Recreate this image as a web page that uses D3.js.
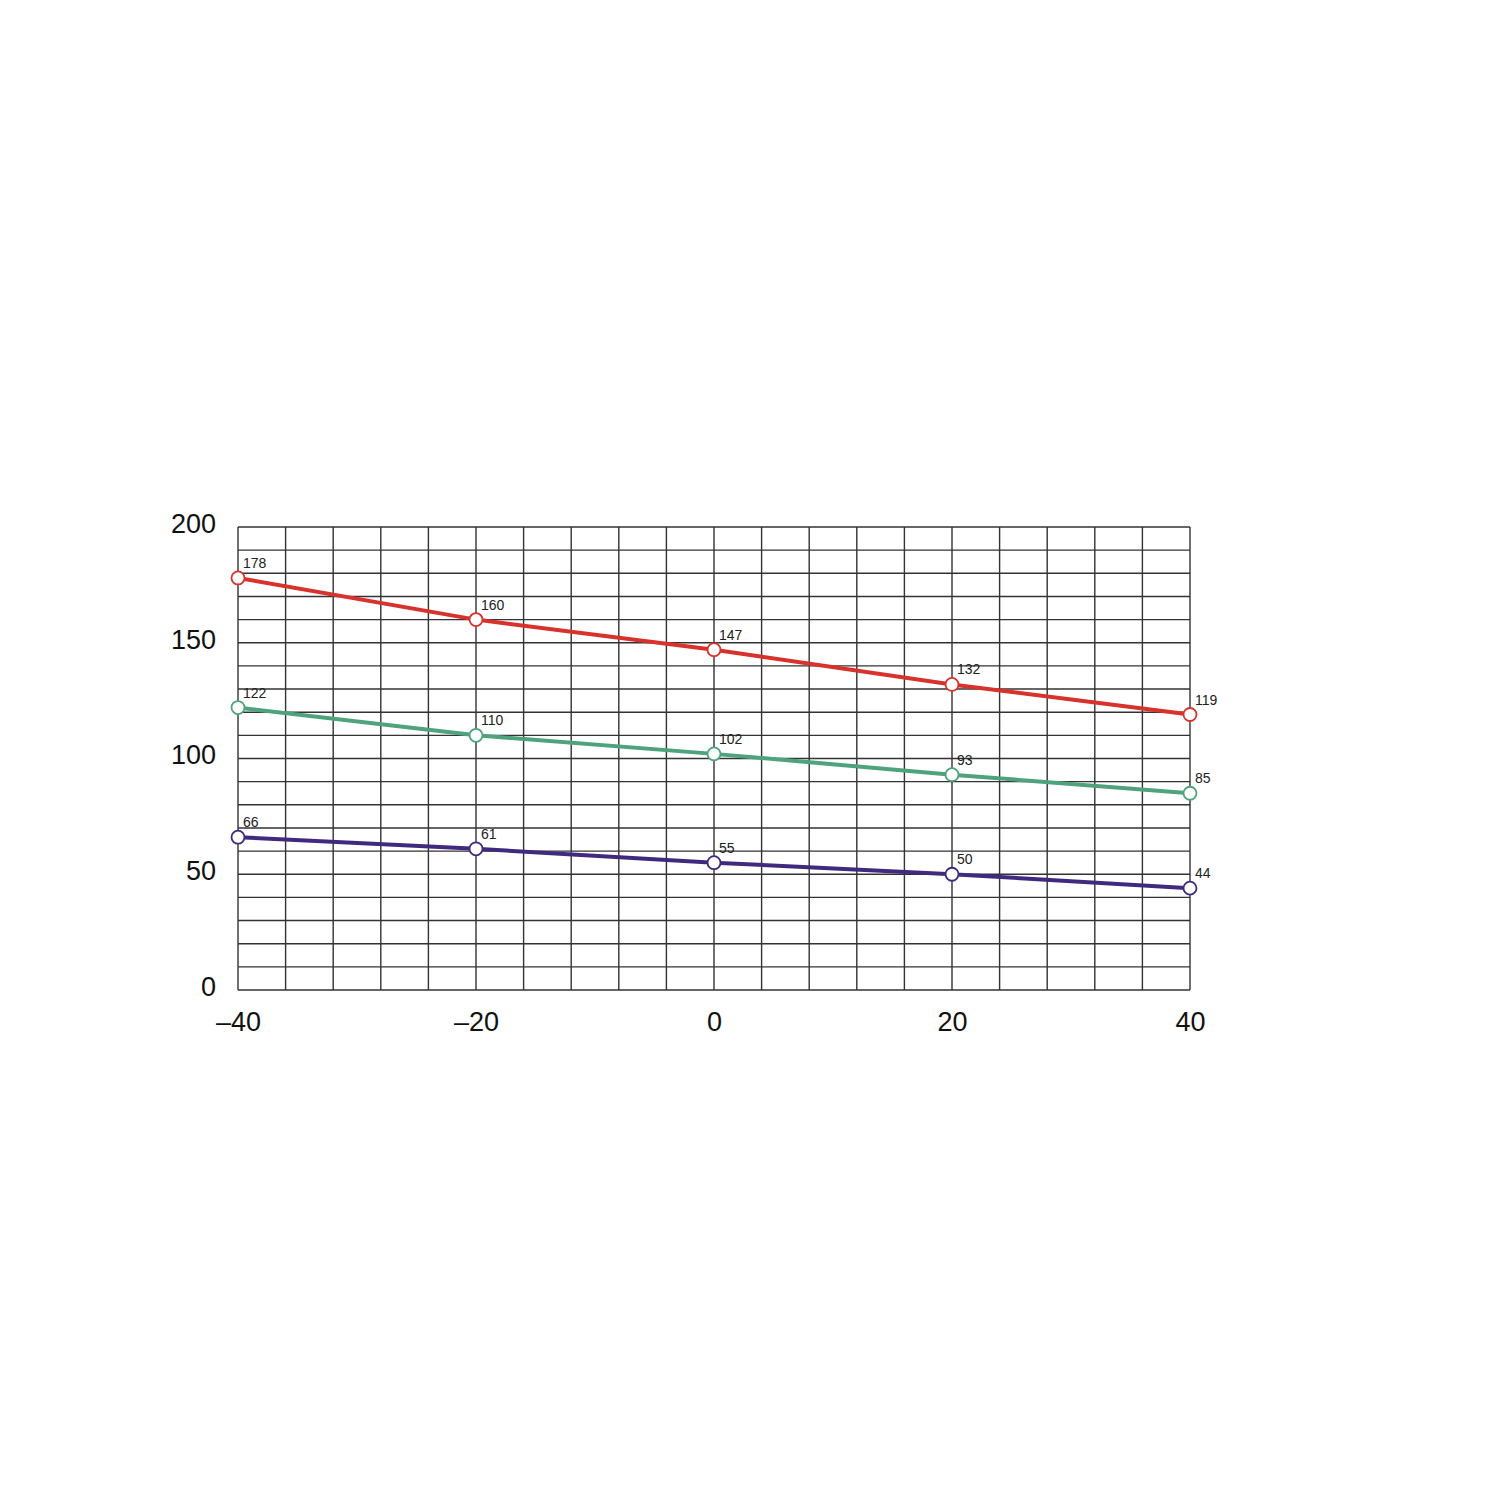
<!DOCTYPE html>
<html><head><meta charset="utf-8">
<script src="https://cdn.jsdelivr.net/npm/d3@7"></script>
<style>body{margin:0;background:#fff}</style>
</head><body>
<script>
const xValues = [-40, -20, 0, 20, 40];
const redSeries = [178, 160, 147, 132, 119];
const greenSeries = [122, 110, 102, 93, 85];
const purpleSeries = [66, 61, 55, 50, 44];
const xTicks = [-40, -20, 0, 20, 40];
const yTicks = [0, 50, 100, 150, 200];

const series = [
  {values: redSeries, color: "#d7322b"},
  {values: greenSeries, color: "#4ea37c"},
  {values: purpleSeries, color: "#3f2a80"}
];

const W = 1500, H = 1500;
const svg = d3.select("body").append("svg").attr("width", W).attr("height", H);
svg.append("rect").attr("width", W).attr("height", H).attr("fill", "#fff");

const x = d3.scaleLinear().domain([-40, 40]).range([238, 1190]);
const y = d3.scaleLinear().domain([0, 200]).range([990, 527]);

const grid = svg.append("g");
grid.selectAll("line.v").data(d3.range(-40, 40.1, 4)).join("line")
  .attr("x1", d => x(d)).attr("x2", d => x(d))
  .attr("y1", y(0)).attr("y2", y(200))
  .attr("stroke", "#333").attr("stroke-width", 1.4);
grid.selectAll("line.h").data(d3.range(0, 200.1, 10)).join("line")
  .attr("y1", d => y(d)).attr("y2", d => y(d))
  .attr("x1", x(-40)).attr("x2", x(40))
  .attr("stroke", "#333").attr("stroke-width", 1.4);

const font = "Liberation Sans, Arial, sans-serif";
const xAxis = d3.axisBottom(x).tickValues(xTicks).tickSize(0)
  .tickFormat(d => d < 0 ? "\u2013" + Math.abs(d) : String(d));
svg.append("g").attr("transform", `translate(0,${y(0)})`).call(xAxis)
  .call(g => g.select(".domain").remove())
  .call(g => g.selectAll("text").attr("font-family", font).attr("font-size", 27)
    .attr("fill", "#111").attr("dy", "0.71em").attr("y", 22));

const yAxis = d3.axisLeft(y).tickValues(yTicks).tickSize(0);
svg.append("g").attr("transform", `translate(${x(-40)},0)`).call(yAxis)
  .call(g => g.select(".domain").remove())
  .call(g => g.selectAll("text").attr("font-family", font).attr("font-size", 27)
    .attr("fill", "#111").attr("x", -22).attr("dy", "0.2em"));

const line = d3.line().x((d, i) => x(xValues[i])).y(d => y(d));
series.forEach(s => {
  const g = svg.append("g");
  g.append("path").datum(s.values).attr("d", line)
    .attr("fill", "none").attr("stroke", s.color).attr("stroke-width", 4)
    .attr("stroke-linejoin", "round");
  g.selectAll("circle").data(s.values).join("circle")
    .attr("cx", (d, i) => x(xValues[i])).attr("cy", d => y(d)).attr("r", 6.5)
    .attr("fill", "#fff").attr("stroke", s.color).attr("stroke-width", 1.8);
  g.selectAll("text").data(s.values).join("text")
    .attr("x", (d, i) => x(xValues[i]) + 5).attr("y", d => y(d) - 10)
    .attr("font-family", font).attr("font-size", 14).attr("fill", "#222")
    .text(d => d);
});
</script>
</body></html>
